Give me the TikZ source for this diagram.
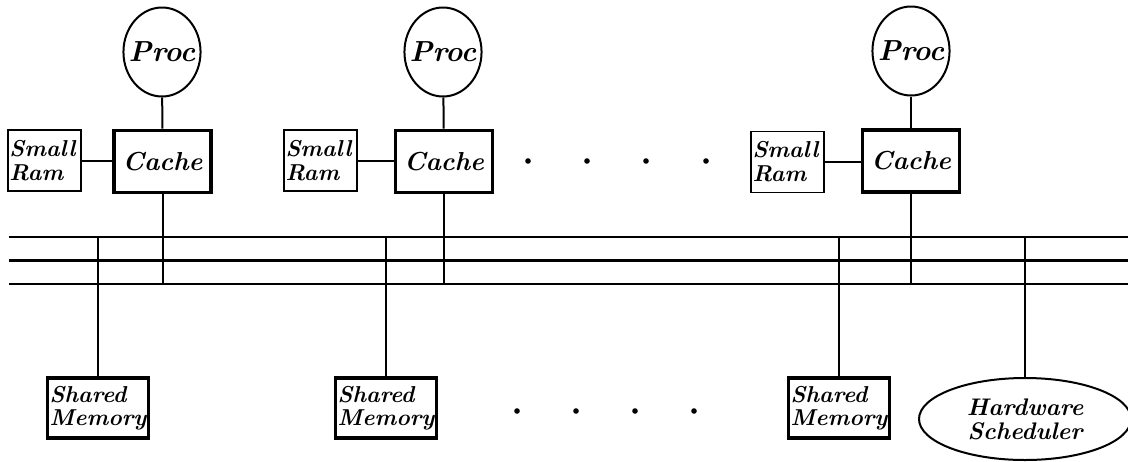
\documentclass[tikz,border=0pt]{standalone}
\usepackage{tikz}
\usetikzlibrary{shapes.geometric}
\tikzstyle{boldtext}=[font=\fontsize{13}{12}\selectfont\bfseries\itshape]
\tikzstyle{proc}=[boldtext, font=\fontsize{14.5}{12}\selectfont\bfseries\itshape, ellipse, draw, line width=1pt, minimum width=38.5pt, minimum height=44.5pt, inner xsep=-3pt, inner ysep=0pt]
\tikzstyle{cache}=[boldtext, rectangle, draw, line width=1.8pt, minimum width=48.5pt, minimum height=31pt]
\tikzstyle{ram}=[boldtext, font=\fontsize{11.5}{12}\selectfont\bfseries\itshape, rectangle, draw, line width=0.9pt, minimum width=36.5pt, minimum height=30.5pt, text width=35pt, inner xsep=0.75pt, align=left]
\tikzstyle{shmem}=[boldtext, font=\fontsize{11.5}{11.5}\selectfont\bfseries\itshape, rectangle, draw, line width=1.8pt, minimum width=48.5pt, minimum height=30pt, inner xsep=1pt, align=left]
\tikzstyle{sched}=[boldtext, font=\fontsize{12}{12}\selectfont\bfseries\itshape, ellipse, draw, line width=1pt, minimum width=106pt, minimum height=41pt, inner sep=0pt, align=center]
\tikzset{wire/.style={line width=1pt}, bus/.style={line width=1pt}}

\begin{document}
\begin{tikzpicture}[x=0.5pt, y=-0.5pt]
		\useasboundingbox (0,0) rectangle (1128,461);
		% processors with their caches
		\node[proc] (p1) at (162,52) {Proc};
		\node[proc] (p2) at (443,52) {Proc};
		\node[proc] (p3) at (911,51) {Proc};
		\node[cache] (c1) at (162.5,161.5) {Cache};
		\node[cache] (c2) at (444,161.5) {Cache};
		\node[cache] (c3) at (911,161) {Cache};
		\node[ram] (r1) at (44.5,160.5) {Small\\Ram};
		\node[ram] (r2) at (320.5,160.5) {Small\\Ram};
		\node[ram] (r3) at (787.5,162) {Small\\Ram};
		% memories and scheduler
		\node[shmem] (m1) at (98,408) {Shared\\Memory};
		\node[shmem] (m2) at (386,408) {Shared\\Memory};
		\node[shmem] (m3) at (839,408) {Shared\\Memory};
		\node[sched] (s) at (1025,419) {Hardware\\Scheduler};
		% bus
		\coordinate (b1w) at (9,237);
		\coordinate (b1e) at (1128,237);
		\coordinate (b2w) at (9,260.5);
		\coordinate (b2e) at (1128,260.5);
		\coordinate (b3w) at (9,284);
		\coordinate (b3e) at (1128,284);
		\draw[bus] (b1w) -- (b1e);
		\draw[bus, line width=1.3pt] (b2w) -- (b2e);
		\draw[bus] (b3w) -- (b3e);
		\foreach \i in {1,2,3} {
			\draw[wire] (p\i) -- (c\i);
			\draw[wire] (r\i.east) -- (r\i.east -| c\i.west);
			\draw[wire] (c\i) -- (c\i |- b3w);
			\draw[wire] (m\i) -- (m\i |- b1w);
		}
		\draw[wire] (s) -- (s |- b1w);
		% dots
		\foreach \x in {528,587,646,706}
			\fill (\x,161) circle (1.4pt);
		\foreach \x in {517,576,635,694}
			\fill (\x,411) circle (1.4pt);
\end{tikzpicture}
\end{document}
